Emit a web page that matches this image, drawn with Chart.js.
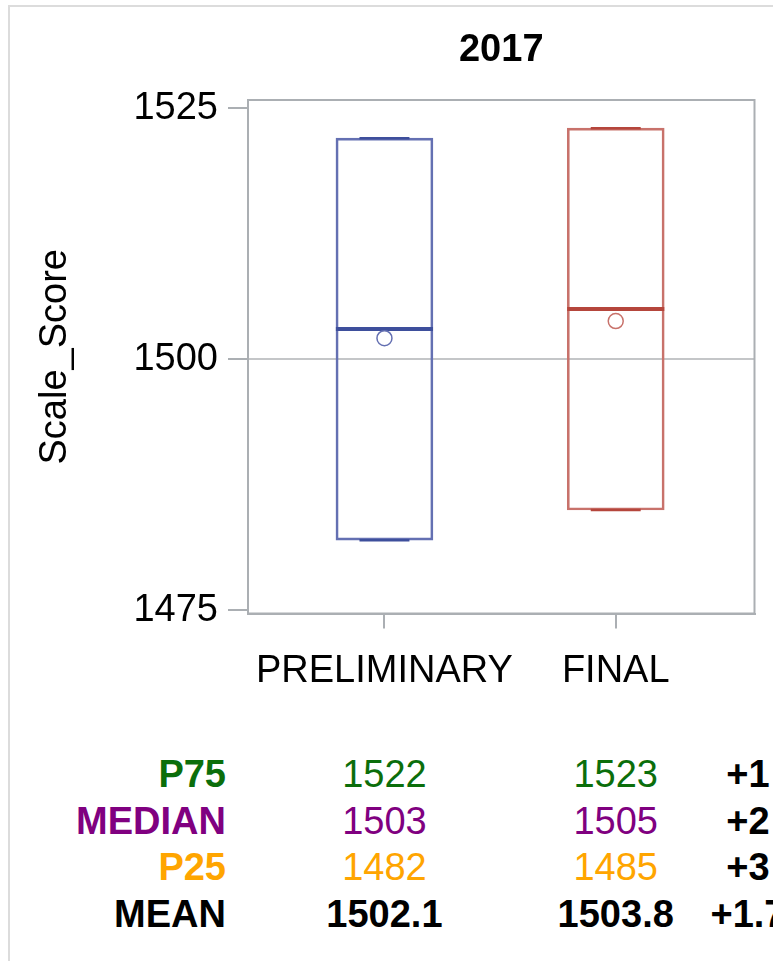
<!DOCTYPE html>
<html>
<head>
<meta charset="utf-8">
<script src="https://cdn.jsdelivr.net/npm/chart.js@4"></script>
<style>
  html, body { margin: 0; padding: 0; background: #fff; overflow: hidden; }
  body { width: 773px; height: 961px; position: relative; font-family: "Liberation Sans", Arial, sans-serif; }
  #frame { position: absolute; left: 8px; top: 5px; width: 900px; height: 1000px;
           border-top: 2px solid #dcdcdc; border-left: 2px solid #dcdcdc; }
  #chart { position: absolute; left: 0; top: 0; }
  #stats { position: absolute; left: 0; top: 751px; width: 773px; }
  .row { position: relative; height: 46.5px; line-height: 46.5px; font-size: 38px; }
  .row span { position: absolute; top: 0; white-space: nowrap; }
  .lbl { font-weight: bold; text-align: right; }
  .val { transform: translateX(-50%); }
  .diff { font-weight: bold; color: #000; transform: translateX(-50%); }
</style>
</head>
<body>
<div id="frame"></div>
<canvas id="chart" width="773" height="700"></canvas>
<div id="stats"></div>

<script>
// ==================== DATA ====================
const categories = ["PRELIMINARY", "FINAL"];
const p75 = [1522, 1523];
const median = [1503, 1505];
const p25 = [1482, 1485];
const mean = [1502.1, 1503.8];
const yTicks = [1475, 1500, 1525];
const chartTitle = "2017";
const yTitle = "Scale_Score";

// table rows under the chart
const statLabels = ["P75", "MEDIAN", "P25", "MEAN"];
const statColors = ["#0b6e0b", "#800080", "#ffa500", "#000000"];
const statDiffs = ["+1", "+2", "+3", "+1.7"];

// colours per group
const boxColors = ["#6470b2", "#c8726b"];
const darkColors = ["#3e4f9c", "#b5463c"];

const FONT = "'Liberation Sans', Arial, sans-serif";
const BOX_HALF = 0.21; // half box width in x units
const CAP_HALF = 0.108; // half whisker cap width

// ==================== DATASETS ====================
const datasets = [];

// boxes (P25 -> P75)
datasets.push({
  type: "bar",
  data: categories.map((c, i) => ({ x: i + 1, y: [p25[i], p75[i]] })),
  backgroundColor: "rgba(0,0,0,0)",
  borderColor: boxColors,
  borderWidth: 2,
  borderSkipped: false,
  barThickness: 97,
  grouped: false,
  xAxisID: "x",
  order: 3,
});

categories.forEach((c, i) => {
  // whisker caps (min = P25, max = P75 here)
  datasets.push({
    type: "line",
    data: [
      { x: i + 1 - CAP_HALF, y: p75[i] },
      { x: i + 1 + CAP_HALF, y: p75[i] },
      { x: i + 1, y: null },
      { x: i + 1 - CAP_HALF, y: p25[i] },
      { x: i + 1 + CAP_HALF, y: p25[i] },
    ],
    borderColor: darkColors[i],
    borderWidth: 2.5,
    pointRadius: 0,
    spanGaps: false,
    xAxisID: "x",
    order: 2,
  });
  // median line
  datasets.push({
    type: "line",
    data: [
      { x: i + 1 - BOX_HALF, y: median[i] },
      { x: i + 1 + BOX_HALF, y: median[i] },
    ],
    borderColor: darkColors[i],
    borderWidth: 4,
    pointRadius: 0,
    xAxisID: "x",
    order: 1,
  });
});

// mean markers
datasets.push({
  type: "scatter",
  data: categories.map((c, i) => ({ x: i + 1, y: mean[i] })),
  pointRadius: 7.5,
  pointBorderWidth: 1.5,
  pointBackgroundColor: "rgba(0,0,0,0)",
  pointBorderColor: boxColors,
  xAxisID: "x",
  order: 0,
});

// Plot frame around the chart area
const framePlugin = {
  id: "plotFrame",
  beforeDatasetsDraw(chart) {
    const a = chart.chartArea;
    const ctx = chart.ctx;
    ctx.save();
    ctx.strokeStyle = "#abafb3";
    ctx.lineWidth = 2;
    ctx.strokeRect(a.left, a.top, a.right - a.left, a.bottom - a.top);
    ctx.restore();
  },
};

const chart = new Chart(document.getElementById("chart"), {
  type: "bar",
  data: { datasets: datasets },
  plugins: [framePlugin],
  options: {
    responsive: false,
    animation: false,
    layout: { padding: { left: 33, right: 18.5, top: 0, bottom: 0 } },
    plugins: {
      legend: { display: false },
      title: { display: false },
      tooltip: { enabled: false },
    },
    scales: {
      xTop: {
        type: "linear",
        position: "top",
        min: 0.41,
        max: 2.6,
        offset: false,
        grid: { display: false, offset: false },
        border: { display: false },
        ticks: { display: false },
        title: {
          display: true,
          text: chartTitle,
          color: "#000",
          font: { family: FONT, size: 38, weight: "bold" },
          padding: { top: 28, bottom: 0 },
        },
        afterFit(scale) {
          scale.height = 100;
        },
      },
      x: {
        type: "linear",
        position: "bottom",
        min: 0.41,
        max: 2.6,
        offset: false,
        afterBuildTicks(scale) {
          scale.ticks = categories.map((c, i) => ({ value: i + 1 }));
        },
        ticks: {
          color: "#000",
          padding: 20,
          font: { family: FONT, size: 38 },
          callback: (v) => categories[v - 1],
          autoSkip: false,
          maxRotation: 0,
        },
        grid: {
          offset: false,
          drawOnChartArea: false,
          tickLength: 15,
          tickColor: "#abafb3",
          lineWidth: 2,
        },
        border: { color: "#abafb3", width: 2 },
        afterFit(scale) {
          scale.height = 700 - 613.5;
        },
      },
      y: {
        type: "linear",
        min: 1474.7,
        max: 1525.8,
        afterBuildTicks(scale) {
          scale.ticks = yTicks.map((v) => ({ value: v }));
        },
        ticks: {
          color: "#000",
          padding: 10,
          font: { family: FONT, size: 38 },
          callback: (v) => String(v),
        },
        grid: {
          color: (ctx) => (ctx.tick && ctx.tick.value === 1500 ? "#c4c6c8" : "rgba(0,0,0,0)"),
          lineWidth: 2,
          tickLength: 20,
          tickColor: "#abafb3",
          tickWidth: 2,
        },
        border: { color: "#abafb3", width: 2 },
        title: {
          display: true,
          text: yTitle,
          color: "#000",
          font: { family: FONT, size: 38 },
          padding: { top: 0, bottom: 0 },
        },
        afterFit(scale) {
          scale.width = 248 - 33;
        },
      },
    },
  },
});

// ==================== STATS TABLE ====================
function renderStats() {
  const xs = categories.map((c, i) => chart.scales.x.getPixelForValue(i + 1));
  const cols = [p75, median, p25, mean];
  const stats = document.getElementById("stats");
  stats.innerHTML = statLabels
    .map((label, r) => {
      const bold = r === 3 ? "font-weight:bold;" : "";
      const vals = cols[r]
        .map(
          (v, i) =>
            `<span class="val" style="left:${xs[i]}px;color:${statColors[r]};${bold}">${r === 3 ? v.toFixed(1) : v}</span>`
        )
        .join("");
      return `
    <div class="row">
      <span class="lbl" style="right:${773 - 226}px;color:${statColors[r]}">${label}</span>
      ${vals}
      <span class="diff" style="left:748px">${statDiffs[r]}</span>
    </div>`;
    })
    .join("");
}
renderStats();
</script>
</body>
</html>
